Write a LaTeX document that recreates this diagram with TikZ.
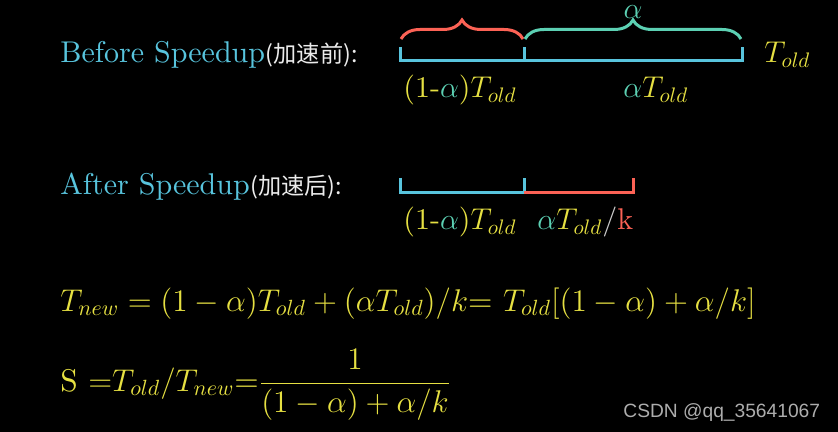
\RequirePackage{fix-cm}
\documentclass[tikz,border=0pt]{standalone}
\usepackage{fontspec}
\usepackage{amsmath}
\setmainfont{lmroman10-regular.otf}[ItalicFont=lmroman10-italic.otf, BoldFont=lmroman10-bold.otf]
\newfontfamily\cjk{Noto Sans CJK SC}
\newfontfamily\wmark{Liberation Sans}
\usepackage{xcolor}
\usepackage{tikz}
\usetikzlibrary{decorations.pathreplacing,positioning,calc}
\definecolor{sblue}{HTML}{58C4DD}
\definecolor{steal}{HTML}{5CD0B3}
\definecolor{sred}{HTML}{FC6255}
\definecolor{syellow}{HTML}{E6E042}

\begin{document}
\begin{tikzpicture}[
  x=0.5pt, y=-0.5pt,
  font=\fontsize{15}{18}\selectfont,
  lbl/.style={inner sep=0pt, anchor=base west},
  eqn/.style={lbl, syellow, font=\fontsize{15.7}{19}\selectfont},
  zh/.style={font=\cjk\fontsize{11.6}{14}\selectfont, text=white!92!black},
  bar/.style={line width=1.5pt},
  brc/.style={line width=1.5pt, decorate, decoration={brace, amplitude=9.5pt}}
]
\fill[black] (0,0) rectangle (838,432);
\useasboundingbox (0,0) rectangle (838,432);

\node[lbl, sblue] (before) at (60,63) {Before Speedup};
\node[lbl, zh] (beforezh) at (before.base east) {(加速前):};
\node[lbl, sblue] (after) at (60,195) {After Speedup};
\node[lbl, zh] (afterzh) at (after.base east) {(加速后):};

\coordinate (b0) at (400,61);
\coordinate (bm) at (524,61);
\coordinate (b1) at (742,61);
\coordinate (a0) at (400,193);
\coordinate (am) at (524,193);
\coordinate (a1) at (633,193);

\draw[bar, sblue] ($(b0)+(0,-14)$) -- (b0) -- (b1) -- ($(b1)+(0,-14)$);
\draw[bar, sblue] (bm) -- ++(0,-14);
\draw[brc, sred] ($(b0)+(1,-22)$) -- ($(bm)+(-1,-22)$);
\draw[brc, steal] ($(bm)+(1,-22)$) -- ($(b1)+(-1,-22)$);

\draw[bar, sblue] ($(a0)+(0,-15)$) -- (a0) -- (am) -- ++(0,-15);
\draw[bar, sred] (am) -- (a1) -- ++(0,-15);

\node[steal, inner sep=0pt, anchor=base] (alpha) at (633,19) {$\alpha$};
\node[lbl, syellow] (told) at (764,63) {$T_{old}$};
\node[lbl, syellow] (part1) at (403,98) {(1-{\color{steal}$\alpha$})$T_{old}$};
\node[lbl, syellow] (part2) at (623,98) {{\color{steal}$\alpha$}$T_{old}$};
\node[lbl, syellow] (new1) at (403,230) {(1-{\color{steal}$\alpha$})$T_{old}$};
\node[lbl, syellow] (new2) at (537,230) {{\color{steal}$\alpha$}$T_{old}${\color{white!80!black}/}{\color{sred}k}};

\node[eqn] (tnew) at (60,311) {$T_{new}=(1-\alpha)T_{old}+(\alpha T_{old})/k$= $T_{old}[(1-\alpha)+\alpha/k]$};
\node[eqn] (speed) at (60,391) {S ${=}T_{old}/T_{new}$=$\dfrac{1}{(1-\alpha)+\alpha/k}$};

\node[lbl, white!68!black, font=\wmark\fontsize{9.6}{11}\selectfont] (mark) at (623,417) {CSDN @qq\_35641067};
\end{tikzpicture}
\end{document}
